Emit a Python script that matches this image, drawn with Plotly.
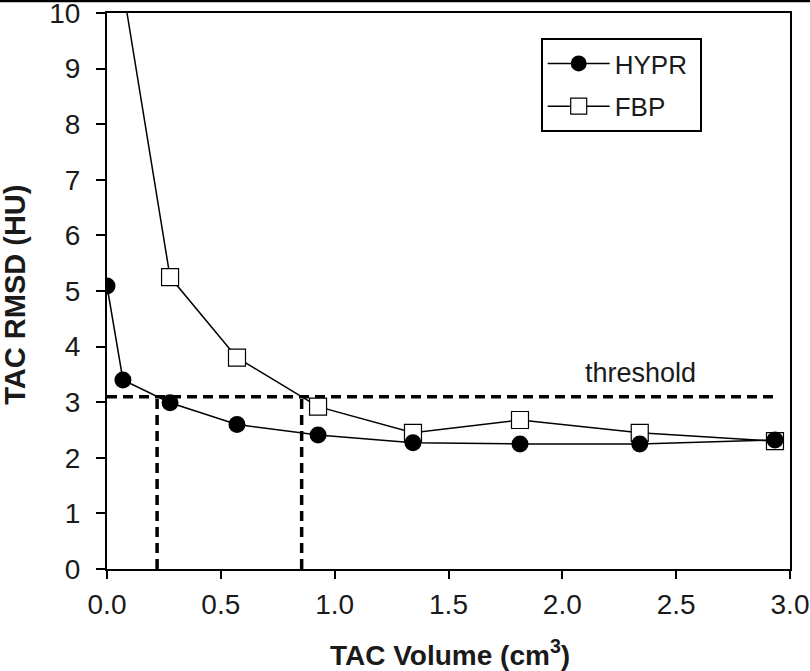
import plotly.graph_objects as go

hypr_x = [0.0, 0.07, 0.277, 0.571, 0.927, 1.344, 1.814, 2.34, 2.934]
hypr_y = [5.09, 3.40, 2.99, 2.60, 2.41, 2.27, 2.25, 2.25, 2.32]

fbp_x = [0.07, 0.277, 0.571, 0.927, 1.344, 1.814, 2.34, 2.934]
fbp_y = [10.45, 5.25, 3.80, 2.92, 2.45, 2.68, 2.45, 2.30]

threshold = 3.1
threshold_x = [0.0, 2.94]
cross_x = [0.22, 0.855]

FONT = "Liberation Sans, Arial, sans-serif"
TXT = "#1a1a1a"
NB = "\u00a0"

fig = go.Figure()

# threshold lines
fig.add_trace(go.Scatter(x=threshold_x, y=[threshold, threshold], mode="lines",
                         line=dict(color="black", width=3.5, dash="10px,6px"),
                         showlegend=False, hoverinfo="skip"))
for cx in cross_x:
    fig.add_trace(go.Scatter(x=[cx, cx], y=[0, threshold], mode="lines",
                             line=dict(color="black", width=3.5, dash="10px,6px"),
                             showlegend=False, hoverinfo="skip"))

fig.add_trace(go.Scatter(x=fbp_x, y=fbp_y, mode="lines+markers", name="FBP" + NB * 3,
                         legendgroup="b", legendrank=2,
                         line=dict(color="black", width=1.5),
                         marker=dict(symbol="square", size=17, color="white",
                                     line=dict(color="black", width=1.2))))
fig.add_trace(go.Scatter(x=hypr_x, y=hypr_y, mode="lines+markers", name="HYPR" + NB,
                         legendgroup="a", legendrank=1,
                         line=dict(color="black", width=1.5),
                         marker=dict(symbol="circle", size=17, color="black")))

fig.add_annotation(x=2.345, y=3.52, text="threshold", showarrow=False,
                   font=dict(family=FONT, size=27, color=TXT))

# axis titles
fig.add_annotation(xref="paper", yref="paper", x=0.502, y=-0.151,
                   text="<b>TAC Volume (cm<sup>3</sup>)</b>", showarrow=False,
                   xanchor="center", yanchor="middle",
                   font=dict(family=FONT, size=28, color=TXT))
fig.add_annotation(xref="paper", yref="paper", x=-0.135, y=0.493,
                   text="<b>TAC RMSD (HU)</b>", showarrow=False, textangle=-90,
                   xanchor="center", yanchor="middle",
                   font=dict(family=FONT, size=29, color=TXT))

# top crop line
fig.add_shape(type="line", xref="paper", yref="paper", x0=-0.2, x1=1.05,
              y0=1.0 + 12 / 556, y1=1.0 + 12 / 556, line=dict(color="black", width=2.5))

fig.update_layout(
    width=810, height=671,
    margin=dict(l=107, r=20, t=13, b=102),
    paper_bgcolor="white", plot_bgcolor="white",
    font=dict(family=FONT, size=28, color=TXT),
    showlegend=True,
    legend=dict(x=0.635, y=0.955, xanchor="left", yanchor="top",
                bordercolor="black", borderwidth=2, bgcolor="white",
                font=dict(family=FONT, size=26, color=TXT),
                itemwidth=62, tracegroupgap=6),
    xaxis=dict(range=[0, 3.0], dtick=0.5, tickformat=".1f", automargin=False,
               showline=True, linecolor="black", linewidth=2, mirror=True,
               ticks="outside", ticklen=8, tickwidth=2, tickcolor="black",
               ticklabelstandoff=1, ticklabeloverflow="allow",
               tickfont=dict(family=FONT, size=28, color=TXT),
               showgrid=False, zeroline=False),
    yaxis=dict(range=[0, 10], dtick=1, automargin=False,
               showline=True, linecolor="black", linewidth=2, mirror=True,
               ticks="outside", ticklen=9, tickwidth=2, tickcolor="black",
               ticklabelstandoff=10, ticklabeloverflow="allow",
               tickfont=dict(family=FONT, size=28, color=TXT),
               showgrid=False, zeroline=False),
)

fig.write_html("out.html", config={"displayModeBar": False},
               post_script="document.body.style.margin='0';document.body.style.overflow='hidden';")
